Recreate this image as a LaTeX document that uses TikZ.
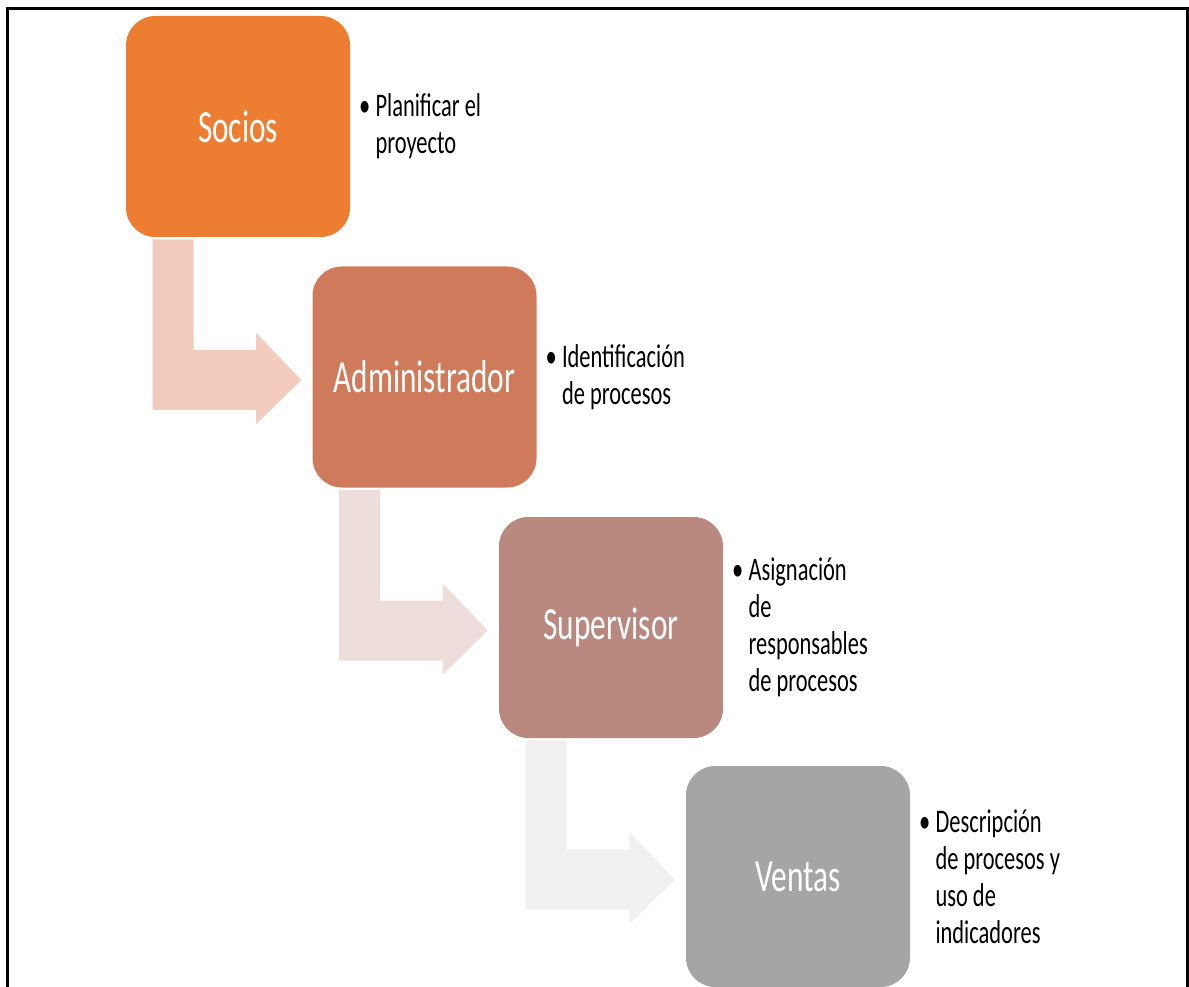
\documentclass[tikz,border=0pt]{standalone}
\usepackage{fontspec}
\setmainfont{Carlito}[FakeStretch=0.68]
\usetikzlibrary{calc}

\definecolor{stageA}{HTML}{ED7D31}
\definecolor{stageB}{HTML}{D07A5C}
\definecolor{stageC}{HTML}{B98980}
\definecolor{stageD}{HTML}{A5A5A5}
\definecolor{flowA}{HTML}{F4CCBE}
\definecolor{flowB}{HTML}{EEDEDB}
\definecolor{flowC}{HTML}{F0F0F0}

\tikzset{
  stage/.style={rounded corners=22pt, minimum width=168pt, minimum height=165.75pt,
    inner sep=0pt, text=white, font=\fontsize{34.5}{41}\selectfont},
  note/.style={anchor=west, align=left, inner sep=0pt, text=black,
    font=\fontsize{24.75}{27.75}\selectfont},
  frame/.style={line width=2.25pt, black},
}

% bent arrow from the bottom of one stage to the left side of the next
\newcommand\bentarrow[3]{%
  \fill[#3] ($(#1.south west)+(27,2)$) -- ($(#1.south west)+(68,2)$)
    |- ($(#2.west)+(-56,-27)$) -- ($(#2.west)+(-56,-44)$) -- ($(#2.west)+(-11,3)$)
    -- ($(#2.west)+(-56,47)$) -- ($(#2.west)+(-56,33)$)
    -| ($(#1.south west)+(27,2)$) -- cycle;}

\begin{document}
\begin{tikzpicture}[x=0.75pt, y=-0.75pt]
  \useasboundingbox (0,0) rectangle (1189,987);

  % outer frame (open at the bottom)
  \draw[frame] (7,987) -- (7,8.5) -- (1187.5,8.5) -- (1187.5,987);

  % stages
  \node[stage, fill=stageA] (socios) at (238,126.5) {Socios};
  \node[stage, fill=stageB] (admin)  at (424.5,377) {Administrador};
  \node[stage, fill=stageC] (super)  at (611,627.5) {Supervisor};
  \node[stage, fill=stageD] (ventas) at (798,876.5) {Ventas};

  % flow arrows
  \bentarrow{socios}{admin}{flowA}
  \bentarrow{admin}{super}{flowB}
  \bentarrow{super}{ventas}{flowC}

  % descriptions
  \node[note] (socios-t) at ($(socios.east)+(25,0)$)
    {\llap{\textbullet\hspace{4pt}}Planificar el\\proyecto};
  \node[note] (admin-t) at ($(admin.east)+(25,0)$)
    {\llap{\textbullet\hspace{4pt}}Identificación\\de procesos};
  \node[note] (super-t) at ($(super.east)+(25,0)$)
    {\llap{\textbullet\hspace{4pt}}Asignación\\de\\responsables\\de procesos};
  \node[note] (ventas-t) at ($(ventas.east)+(25,0)$)
    {\llap{\textbullet\hspace{4pt}}Descripción\\de procesos y\\uso de\\indicadores};
\end{tikzpicture}
\end{document}
